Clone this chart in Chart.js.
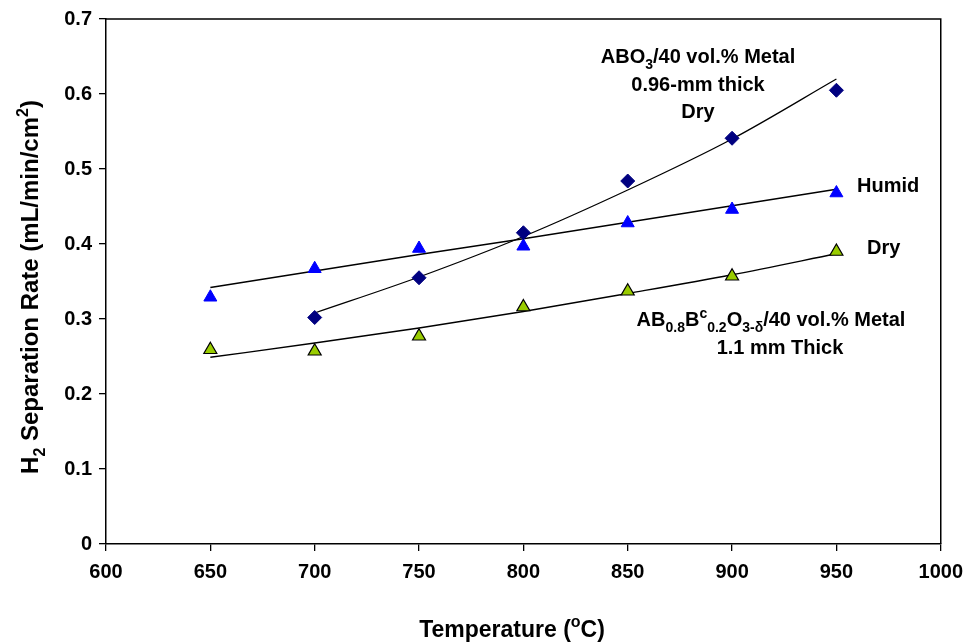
<!DOCTYPE html>
<html>
<head>
<meta charset="utf-8">
<script src="https://cdn.jsdelivr.net/npm/chart.js@4"></script>
<style>
  html, body { margin: 0; padding: 0; background: #fff; }
  #wrap { width: 972px; height: 644px; }
</style>
</head>
<body>
<div id="wrap"><canvas id="h2-chart" width="972" height="644"></canvas></div>
<script>
// temperatures (°C)
const tempsAll = [650, 700, 750, 800, 850, 900, 950];
const tempsAbo = [700, 750, 800, 850, 900, 950];

// measured rates (mL/min/cm2)
const aboDry = [0.302, 0.355, 0.415, 0.484, 0.541, 0.605];
const abbHumid = [0.329, 0.367, 0.394, 0.397, 0.428, 0.446, 0.468];
const abbDry = [0.259, 0.257, 0.277, 0.316, 0.337, 0.357, 0.390];

// trend lines
const aboTrend = [0.308, 0.356, 0.410, 0.472, 0.540, 0.620];
const humidTrend = [0.342, 0.364, 0.386, 0.407, 0.429, 0.451, 0.473];
const dryTrend = [0.249, 0.268, 0.288, 0.310, 0.334, 0.359, 0.387];

const xTicks = [600, 650, 700, 750, 800, 850, 900, 950, 1000];
const yTicks = [0, 0.1, 0.2, 0.3, 0.4, 0.5, 0.6, 0.7];

const FONT = "'Liberation Sans', Arial, sans-serif";

function pts(xs, ys) {
  return xs.map((x, i) => ({ x: x, y: ys[i] }));
}

// draw a run of text pieces; each piece may be raised (sup) or lowered (sub)
function richText(ctx, parts, x, y, size, align) {
  const small = Math.round(size * 0.68);
  let total = 0;
  parts.forEach((p) => {
    ctx.font = "bold " + (p.s ? small : size) + "px " + FONT;
    p.w = ctx.measureText(p.t).width;
    total += p.w;
  });
  let cx = align === "left" ? x : x - total / 2;
  ctx.textAlign = "left";
  ctx.textBaseline = "alphabetic";
  parts.forEach((p) => {
    ctx.font = "bold " + (p.s ? small : size) + "px " + FONT;
    let dy = 0;
    if (p.s === "sub") dy = size * 0.28;
    if (p.s === "sup") dy = -size * 0.42;
    ctx.fillText(p.t, cx, y + dy);
    cx += p.w;
  });
}

const labelsPlugin = {
  id: "labels",
  afterDraw(chart) {
    const ctx = chart.ctx;
    const a = chart.chartArea;
    ctx.save();
    // top and right frame
    ctx.strokeStyle = "#000";
    ctx.lineWidth = 1.5;
    ctx.beginPath();
    ctx.moveTo(a.left, a.top);
    ctx.lineTo(a.right, a.top);
    ctx.lineTo(a.right, a.bottom);
    ctx.stroke();

    ctx.fillStyle = "#000";
    richText(ctx, [{ t: "ABO" }, { t: "3", s: "sub" }, { t: "/40 vol.% Metal" }], 698, 63, 20);
    richText(ctx, [{ t: "0.96-mm thick" }], 698, 91, 20);
    richText(ctx, [{ t: "Dry" }], 698, 118, 20);
    richText(ctx, [{ t: "Humid" }], 857, 192, 20, "left");
    richText(ctx, [{ t: "Dry" }], 867, 254, 20, "left");
    richText(ctx, [
      { t: "AB" }, { t: "0.8", s: "sub" }, { t: "B" }, { t: "c", s: "sup" },
      { t: "0.2", s: "sub" }, { t: "O" }, { t: "3-\u03b4", s: "sub" }, { t: "/40 vol.% Metal" }
    ], 771, 326, 20);
    richText(ctx, [{ t: "1.1 mm Thick" }], 780, 354, 20);

    // axis titles
    richText(ctx, [{ t: "Temperature (" }, { t: "o", s: "sup" }, { t: "C)" }], 512, 637, 23);
    ctx.translate(38, 287);
    ctx.rotate(-Math.PI / 2);
    richText(ctx, [
      { t: "H" }, { t: "2", s: "sub" }, { t: " Separation Rate (mL/min/cm" },
      { t: "2", s: "sup" }, { t: ")" }
    ], 0, 0, 24);
    ctx.restore();
  },
};

new Chart(document.getElementById("h2-chart").getContext("2d"), {
  type: "scatter",
  plugins: [labelsPlugin],
  data: {
    datasets: [
      {
        data: pts(tempsAbo, aboTrend),
        showLine: true, borderColor: "#000", borderWidth: 1.3,
        pointRadius: 0, tension: 0.4, cubicInterpolationMode: "monotone", order: 2,
      },
      {
        data: pts(tempsAll, humidTrend),
        showLine: true, borderColor: "#000", borderWidth: 1.3,
        pointRadius: 0, tension: 0, order: 2,
      },
      {
        data: pts(tempsAll, dryTrend),
        showLine: true, borderColor: "#000", borderWidth: 1.3,
        pointRadius: 0, tension: 0.4, cubicInterpolationMode: "monotone", order: 2,
      },
      {
        data: pts(tempsAbo, aboDry),
        pointStyle: "rectRot", pointRadius: 7,
        backgroundColor: "#000080", borderColor: "#000080", borderWidth: 1, order: 1,
      },
      {
        data: pts(tempsAll, abbHumid),
        pointStyle: "triangle", pointRadius: 7.5,
        backgroundColor: "#0000FF", borderColor: "#0000FF", borderWidth: 1, order: 1,
      },
      {
        data: pts(tempsAll, abbDry),
        pointStyle: "triangle", pointRadius: 7.5,
        backgroundColor: "#99CC00", borderColor: "#000", borderWidth: 1.2, order: 1,
      },
    ],
  },
  options: {
    responsive: false,
    animation: false,
    layout: { padding: { top: 16, right: 26, left: 0, bottom: 0 } },
    plugins: { legend: { display: false }, tooltip: { enabled: false } },
    scales: {
      x: {
        type: "linear", min: 600, max: 1000,
        afterBuildTicks: (s) => { s.ticks = xTicks.map((v) => ({ value: v })); },
        afterFit: (s) => { s.height = 100; },
        grid: { drawOnChartArea: false, tickLength: 7, color: "#000", lineWidth: 1.3 },
        border: { color: "#000", width: 1.5 },
        ticks: {
          color: "#000", padding: 9, font: { family: FONT, size: 20, weight: "bold" },
          callback: (v) => String(v),
        },
      },
      y: {
        min: 0, max: 0.7,
        afterBuildTicks: (s) => { s.ticks = yTicks.map((v) => ({ value: v })); },
        afterFit: (s) => { s.width = 106; },
        grid: { drawOnChartArea: false, tickLength: 7, color: "#000", lineWidth: 1.3 },
        border: { color: "#000", width: 1.5 },
        ticks: {
          color: "#000", padding: 7, font: { family: FONT, size: 20, weight: "bold" },
          callback: (v) => (v === 0 ? "0" : v.toFixed(1)),
        },
      },
    },
  },
});
</script>
</body>
</html>
